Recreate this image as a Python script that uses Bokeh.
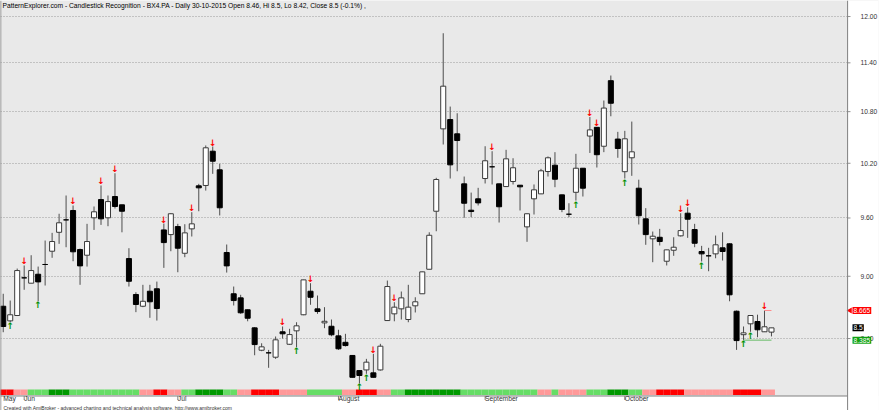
import math
from bokeh.plotting import figure
from bokeh.models import (Range1d, LinearScale, FixedTicker, Label, Span,
                          ColumnDataSource, NumeralTickFormatter)
from bokeh.core.properties import value
from bokeh.embed import file_html
from bokeh.resources import INLINE

# ---------------- data ----------------
month_ticks = [0, 3, 25, 48, 69, 89]
month_labels = ["May", "Jun", "Jul", "August", "September", "October"]
price_ticks = [8.4, 9.0, 9.6, 10.2, 10.8, 11.4, 12.0]

opens = [8.706, 8.566, 8.617, 8.984, 8.931, 9.020, 9.118, 9.253, 9.449, 9.580,
         9.680, 9.270, 9.212, 9.602, 9.798, 9.602, 9.831, 9.741, 9.178, 8.820,
         8.706, 8.852, 8.876, 9.474, 9.425, 9.509, 9.232, 9.485, 9.948, 9.952,
         10.337, 10.126, 9.240, 8.827, 8.787, 8.672, 8.500, 8.292, 8.268, 8.228,
         8.463, 8.347, 8.472, 8.624, 8.852, 8.681, 8.547, 8.515, 8.425, 8.365,
         8.244, 8.107, 8.113, 8.087, 8.113, 8.569, 8.633, 8.681, 8.579, 8.710,
         8.827, 9.070, 9.672, 10.596, 10.706, 10.538, 9.970, 9.683, 9.806, 10.029,
         10.160, 9.970, 9.940, 9.996, 9.955, 9.506, 9.806, 9.860, 10.107, 10.178,
         9.849, 9.640, 9.877, 10.144, 10.512, 10.614, 10.394, 11.177, 10.477, 10.105,
         10.262, 9.922, 9.591, 9.381, 9.397, 9.151, 9.263, 9.412, 9.651, 9.478,
         9.250, 9.206, 9.226, 9.288, 9.329, 8.658, 8.436, 8.538, 8.560, 8.463,
         8.46]
highs = [8.827, 8.761, 9.077, 9.108, 9.212, 9.097, 9.363, 9.443, 9.645, 9.842,
         9.734, 9.280, 9.538, 9.723, 9.952, 9.842, 10.088, 9.741, 9.284, 8.842,
         8.915, 8.915, 8.947, 9.541, 9.651, 9.538, 9.534, 9.662, 9.970, 10.403,
         10.391, 10.194, 9.322, 8.898, 8.817, 8.675, 8.506, 8.356, 8.295, 8.419,
         8.513, 8.491, 8.553, 8.965, 8.931, 8.810, 8.697, 8.579, 8.482, 8.444,
         8.246, 8.108, 8.213, 8.259, 8.351, 8.957, 8.745, 8.849, 8.915, 8.793,
         9.046, 9.449, 10.037, 11.780, 10.861, 10.781, 10.051, 9.874, 9.926, 10.394,
         10.337, 9.972, 10.353, 10.257, 9.957, 9.647, 9.963, 10.137, 10.277, 10.326,
         9.851, 9.758, 10.307, 10.146, 10.736, 10.616, 10.934, 11.241, 10.561, 10.573,
         10.682, 10.016, 9.705, 9.457, 9.485, 9.269, 9.397, 9.651, 9.715, 9.538,
         9.308, 9.288, 9.415, 9.449, 9.335, 8.665, 8.513, 8.619, 8.625, 8.665,
         8.5]
lows = [8.459, 8.553, 8.612, 8.866, 8.931, 8.754, 8.908, 9.186, 9.329, 9.294,
        9.151, 8.915, 9.097, 9.474, 9.527, 9.513, 9.701, 9.449, 8.898, 8.649,
        8.697, 8.595, 8.569, 9.084, 9.253, 9.040, 9.192, 9.405, 9.672, 9.896,
        10.081, 9.627, 9.037, 8.713, 8.633, 8.562, 8.246, 8.283, 8.132, 8.213,
        8.400, 8.341, 8.319, 8.620, 8.720, 8.633, 8.497, 8.421, 8.295, 8.326,
        8.045, 7.992, 8.078, 8.045, 8.107, 8.565, 8.562, 8.579, 8.553, 8.646,
        8.825, 9.068, 9.460, 10.414, 10.029, 10.110, 9.602, 9.608, 9.734, 9.974,
        9.963, 9.552, 9.938, 9.963, 9.680, 9.350, 9.637, 9.858, 10.051, 9.933,
        9.662, 9.608, 9.787, 9.831, 10.317, 10.152, 10.326, 10.745, 10.262, 10.029,
        10.059, 9.531, 9.319, 9.141, 9.312, 9.108, 9.206, 9.405, 9.391, 9.294,
        9.148, 9.050, 9.181, 9.158, 8.754, 8.295, 8.385, 8.463, 8.412, 8.461,
        8.42]
closes = [8.513, 8.624, 9.057, 8.984, 9.057, 8.944, 9.118, 9.353, 9.549, 9.580,
          9.247, 9.104, 9.353, 9.666, 9.591, 9.776, 9.723, 9.672, 8.950, 8.723,
          8.754, 8.749, 8.684, 9.342, 9.645, 9.284, 9.443, 9.538, 9.926, 10.376,
          10.223, 9.709, 9.104, 8.761, 8.643, 8.591, 8.344, 8.323, 8.268, 8.388,
          8.444, 8.437, 8.519, 8.964, 8.793, 8.655, 8.562, 8.435, 8.305, 8.335,
          8.047, 8.063, 8.183, 8.047, 8.329, 8.898, 8.697, 8.787, 8.697, 8.749,
          9.044, 9.418, 10.018, 11.109, 10.182, 10.460, 9.758, 9.669, 9.762, 10.228,
          10.160, 9.720, 10.250, 10.149, 9.937, 9.645, 9.904, 10.115, 10.262, 10.021,
          9.691, 9.640, 10.144, 9.922, 10.584, 10.297, 10.843, 10.901, 10.368, 10.480,
          10.330, 9.624, 9.425, 9.408, 9.353, 9.267, 9.294, 9.467, 9.587, 9.335,
          9.226, 9.206, 9.319, 9.250, 8.817, 8.381, 8.453, 8.617, 8.482, 8.510,
          8.5]

# pattern arrows (candle indices)
bearish_idx = [3, 10, 14, 16, 23, 27, 30, 40, 44, 53, 56, 70, 84, 85, 97, 98, 109]
bullish_idx = [1, 5, 42, 51, 52, 82, 89, 100, 106, 107]

# ribbon runs: (state, number of bars)
ribbon_runs = [("R", 2), ("P", 2), ("G", 3), ("D", 3), ("G", 10), ("P", 2), ("R", 2), ("P", 2),
               ("G", 2), ("D", 4), ("G", 2), ("P", 2), ("R", 4), ("P", 4), ("G", 5), ("P", 2),
               ("R", 3), ("P", 2), ("G", 2), ("D", 8), ("G", 11), ("P", 2), ("G", 1), ("P", 4),
               ("G", 3), ("D", 3), ("G", 2), ("P", 2), ("R", 4), ("P", 7), ("R", 4), ("P", 2)]

# support / resistance levels and their bar spans
resist_level, resist_from, resist_to = 8.665, 109, 110
support_level, support_from, support_to = 8.385, 106, 110
last_close = 8.5
price_markers = [(resist_level, "8.665", "#FF0000"), (last_close, "8.5", "#000000"),
                 (support_level, "8.385", "#10A010")]

title_text = ("PatternExplorer.com - Candlestick Recognition - BX4.PA - Daily 30-10-2015 "
              "Open 8.46, Hi 8.5, Lo 8.42, Close 8.5 (-0.1%) ,")
footer_text = ("Created with AmiBroker - advanced charting and technical analysis software. "
               "http://www.amibroker.com")

# ---------------- figure ----------------
W, H = 880, 410
FONT = "Liberation Sans"
Y_TOP = 12.215
PX_PER_LN = 902.8
y_bottom = Y_TOP * math.exp(-H / PX_PER_LN)
X0, PX_PER_BAR = -0.39, 7.0
x_end = X0 + W / PX_PER_BAR
AXIS_X = 120.9          # where the price-scale strip begins (bar units)
DATE_STRIP = 14.5       # height of the date strip under the price pane (px)

p = figure(width=W, height=H, output_backend="svg", toolbar_location=None,
           y_axis_type="log", y_axis_location="right",
           x_range=Range1d(X0, x_end), y_range=Range1d(y_bottom, Y_TOP),
           min_border_left=0, min_border_right=0, min_border_top=0, min_border_bottom=0)
p.background_fill_color = "#E9E9E9"
p.border_fill_color = "white"
p.outline_line_color = None
p.extra_y_ranges = {"px": Range1d(0, H)}
p.extra_y_scales = {"px": LinearScale()}

# price axis: labels drawn back into the white price-scale strip
ya = p.yaxis[0]
ya.ticker = FixedTicker(ticks=price_ticks)
ya.formatter = NumeralTickFormatter(format="0.00")
ya.major_label_text_font_size = "6.7px"
ya.major_label_text_font = FONT
ya.major_label_text_color = "#333333"
ya.major_label_standoff = -18
ya.major_tick_in = 0
ya.major_tick_out = 0
ya.minor_tick_line_color = None
ya.axis_line_color = None

# date axis: labels drawn back into the white date strip, left-aligned at month starts
xa = p.xaxis[0]
xa.ticker = FixedTicker(ticks=month_ticks)
xa.major_label_overrides = {t: lab for t, lab in zip(month_ticks, month_labels)}
xa.major_label_orientation = -0.0001
xa.major_label_text_font_size = "6.7px"
xa.major_label_text_font = FONT
xa.major_label_text_color = "#333333"
xa.major_label_standoff = -12
xa.major_tick_in = 0
xa.major_tick_out = 0
xa.minor_tick_line_color = None
xa.axis_line_color = None

p.xgrid.visible = False
p.ygrid.grid_line_color = "#9A9A9A"
p.ygrid.grid_line_dash = "1 2"

# white price-scale strip and date strip, with their border lines and ticks
p.quad(left=[AXIS_X], right=[x_end + 1], bottom=[y_bottom], top=[Y_TOP],
       fill_color="white", line_color=None)
p.quad(left=[X0 - 1], right=[x_end + 1], bottom=[0], top=[DATE_STRIP],
       fill_color="white", line_color=None, y_range_name="px")
p.segment(x0=[X0], x1=[AXIS_X], y0=[DATE_STRIP], y1=[DATE_STRIP],
          line_color="#808080", line_width=1, y_range_name="px")
month_starts = month_ticks[1:]
p.segment(x0=month_starts, x1=month_starts, y0=[DATE_STRIP - 4] * len(month_starts),
          y1=[DATE_STRIP] * len(month_starts), line_color="#808080", line_width=1,
          y_range_name="px")
p.add_layout(Span(location=AXIS_X, dimension="height", line_color="#808080", line_width=1))
p.add_layout(Span(location=X0, dimension="height", line_color="#808080", line_width=1.5))
p.scatter(x=[AXIS_X + 0.2] * len(price_ticks), y=price_ticks, marker="dash", size=3,
          line_color="#909090", line_width=1)

# ---------------- ribbon ----------------
ribbon_colors = {"R": "#FF0000", "P": "#FF9999", "G": "#66DD66", "D": "#009900"}
rib_left, rib_right, rib_color = [], [], []
pos = 0
for state, n in ribbon_runs:
    for _ in range(n):
        rib_left.append(pos - 0.5)
        rib_right.append(pos + 0.5)
        rib_color.append(ribbon_colors[state])
        pos += 1
p.quad(left=rib_left, right=rib_right, bottom=DATE_STRIP + 1.0, top=DATE_STRIP + 6.5,
       fill_color=rib_color, line_color=None, y_range_name="px")

# ---------------- candles ----------------
idx = list(range(len(opens)))
up = [c > o for o, c in zip(opens, closes)]
src = ColumnDataSource(dict(
    x=idx, o=opens, h=highs, l=lows, c=closes,
    top=[max(o, c) for o, c in zip(opens, closes)],
    bot=[min(o, c) for o, c in zip(opens, closes)],
    fill=["white" if u else "black" for u in up],
    line=["#3A3A3A" if u else "black" for u in up],
))
p.segment(x0="x", y0="l", x1="x", y1="h", source=src, line_color="#4D4D4D", line_width=1)
p.vbar(x="x", width=0.72, top="top", bottom="bot", source=src,
       fill_color="fill", line_color="line", line_width=1)

# support / resistance lines
p.segment(x0=[resist_from], x1=[resist_to], y0=[resist_level], y1=[resist_level],
          line_color="#FF8A8A", line_width=1)
p.segment(x0=[support_from], x1=[support_to], y0=[support_level], y1=[support_level],
          line_color="#66BB66", line_width=1)

# ---------------- arrows ----------------
p.text(x=bearish_idx, y=[highs[i] for i in bearish_idx], text=["↓"] * len(bearish_idx),
       text_font=value("DejaVu Sans"), text_font_style="bold", text_font_size="9px",
       text_color="#FF0000", text_align="center", text_baseline="bottom", y_offset=1)
p.text(x=bullish_idx, y=[lows[i] for i in bullish_idx], text=["↑"] * len(bullish_idx),
       text_font=value("DejaVu Sans"), text_font_style="bold", text_font_size="9px",
       text_color="#009000", text_align="center", text_baseline="top", y_offset=-1)

# ---------------- title and footer ----------------
p.add_layout(Label(x=2, x_units="screen", y=Y_TOP, y_units="data",
                   text=title_text, text_font=FONT, text_font_size="6.7px",
                   text_color="black", text_baseline="top", y_offset=-1))
p.add_layout(Label(x=3, x_units="screen", y=2.8, y_units="data", y_range_name="px",
                   text=footer_text, text_font=FONT, text_font_size="5px",
                   text_color="#333333", text_baseline="alphabetic"))

# ---------------- last-value markers on the price scale ----------------
p.scatter(x=[AXIS_X + 0.35], y=[resist_level], marker="triangle", angle=math.pi / 2,
          size=6, fill_color="#FF0000", line_color=None)
for lvl, txt, bg in price_markers:
    p.add_layout(Label(x=852, x_units="screen", y=lvl, y_units="data",
                       text=txt, text_font=FONT, text_font_size="6.7px",
                       text_color="white", text_baseline="middle",
                       background_fill_color=bg, padding=1))

open("out.html", "w").write(file_html(p, INLINE))
